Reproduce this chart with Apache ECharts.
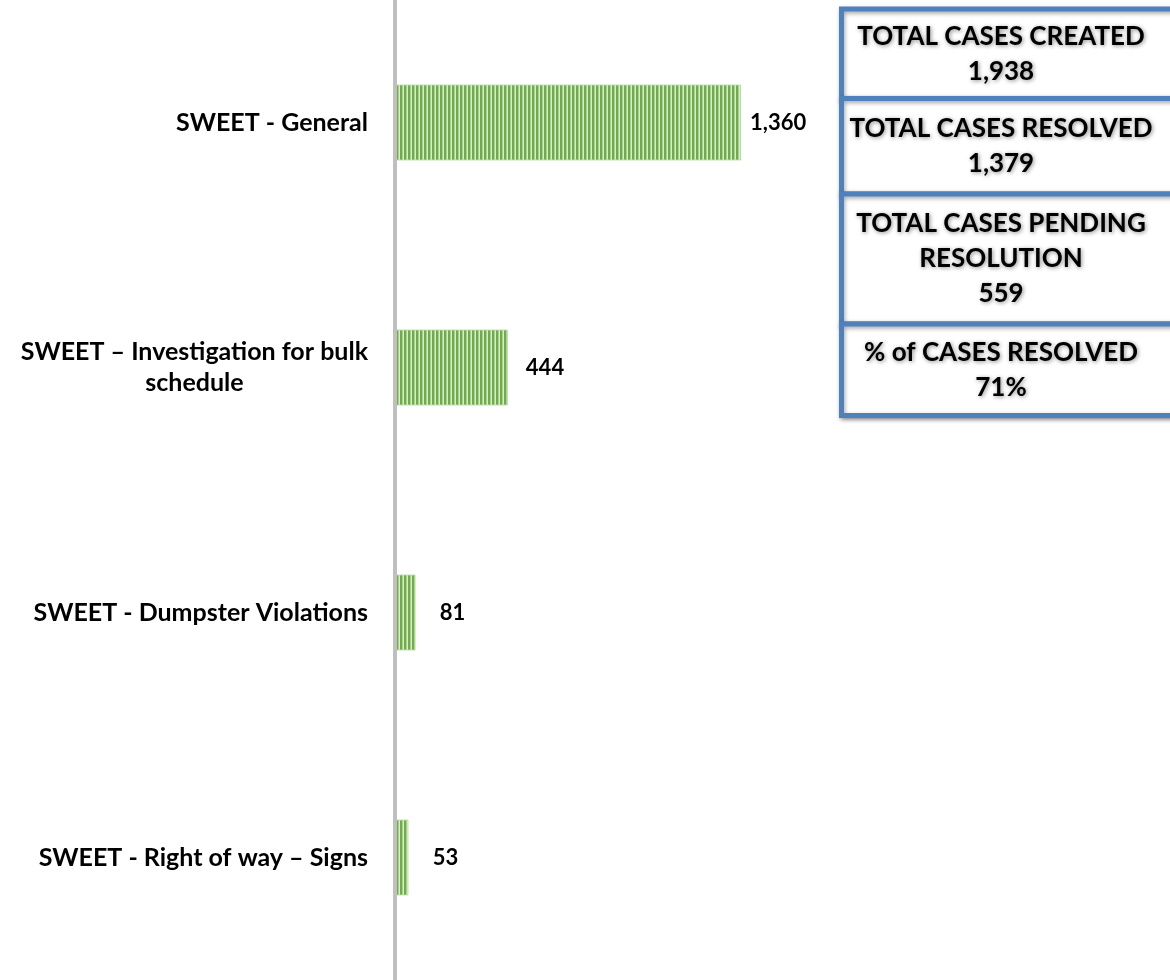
<!DOCTYPE html>
<html>
<head>
<meta charset="utf-8">
<script src="https://cdn.jsdelivr.net/npm/echarts@6/dist/echarts.min.js"></script>
<style>
html,body{margin:0;padding:0;background:#fff;}
#chart{width:1170px;height:980px;}
</style>
</head>
<body>
<div id="chart"></div>
<script>
const categories = ['SWEET - General', 'SWEET \u2013 Investigation for bulk\nschedule', 'SWEET - Dumpster Violations', 'SWEET - Right of way \u2013 Signs'];
const values = [1360, 444, 81, 53];
const infoTitles = [['TOTAL CASES CREATED'], ['TOTAL CASES RESOLVED'], ['TOTAL CASES PENDING', 'RESOLUTION'], ['% of CASES RESOLVED']];
const infoValues = ['1,938', '1,379', '559', '71%'];

const FONT = 'Lato, "Open Sans", sans-serif';

// striped pattern for bars
const pc = document.createElement('canvas');
pc.width = 4; pc.height = 4;
const pctx = pc.getContext('2d');
pctx.fillStyle = '#70ad47'; pctx.fillRect(0, 0, 2, 4);
pctx.fillStyle = '#a9d18e'; pctx.fillRect(2, 0, 1, 4);
pctx.fillStyle = '#d9ebcd'; pctx.fillRect(3, 0, 1, 4);

const chart = echarts.init(document.getElementById('chart'), null, {renderer: 'canvas'});

// info boxes
const boxTops = [9, 98.5, 194, 324];
const boxBottoms = [98.5, 194, 324, 415.5];
const lineH = 35;
const graphics = [];
for (let i = 0; i < infoTitles.length; i++) {
  const top = boxTops[i], bot = boxBottoms[i];
  graphics.push({
    type: 'rect', z: 10,
    shape: {x: 841.5, y: top, width: 420, height: bot - top},
    style: {fill: '#fff', stroke: '#4f81bd', lineWidth: 5,
      shadowColor: 'rgba(0,0,0,0.35)', shadowBlur: 4, shadowOffsetX: 1, shadowOffsetY: 2}
  });
}
for (let i = 0; i < infoTitles.length; i++) {
  const lines = infoTitles[i].concat([infoValues[i]]);
  const mid = (boxTops[i] + boxBottoms[i]) / 2;
  const startY = mid - (lines.length - 1) * lineH / 2;
  lines.forEach((t, j) => {
    graphics.push({
      type: 'text', z: 11,
      x: 1001, y: startY + j * lineH,
      style: {text: t, fill: '#000', font: 'bold 26px ' + FONT, textAlign: 'center', textVerticalAlign: 'middle',
        textShadowColor: 'rgba(0,0,0,0.45)', textShadowBlur: 4, textShadowOffsetX: 1, textShadowOffsetY: 1}
    });
  });
}

chart.setOption({
  animation: false,
  backgroundColor: '#fff',
  grid: {left: 395, right: 266, top: 0, bottom: 0, containLabel: false},
  xAxis: {type: 'value', min: 0, max: 2000, show: false, splitLine: {show: false}},
  yAxis: {
    type: 'category', data: categories, inverse: true, z: 10,
    axisLine: {show: true, lineStyle: {color: '#bfbfbf', width: 4}},
    axisTick: {show: false},
    axisLabel: {
      margin: 27,
      formatter: function (v) {
        return v.split('\n').map(s => '{c|' + s + '}').join('\n');
      },
      rich: {c: {align: 'center', fontSize: 25, fontWeight: 'bold', fontFamily: FONT, color: '#000', lineHeight: 31}}
    }
  },
  series: [{
    type: 'bar', data: values, barWidth: 76,
    itemStyle: {color: {image: pc, repeat: 'repeat'}, borderColor: 'rgba(190,222,170,0.9)', borderWidth: 1},
    label: {
      show: true, position: 'right', distance: 37, align: 'center',
      formatter: p => p.value.toLocaleString('en-US'),
      fontSize: 22, fontWeight: 'bold', fontFamily: FONT, color: '#000'
    }
  }],
  graphic: graphics
});
</script>
</body>
</html>
